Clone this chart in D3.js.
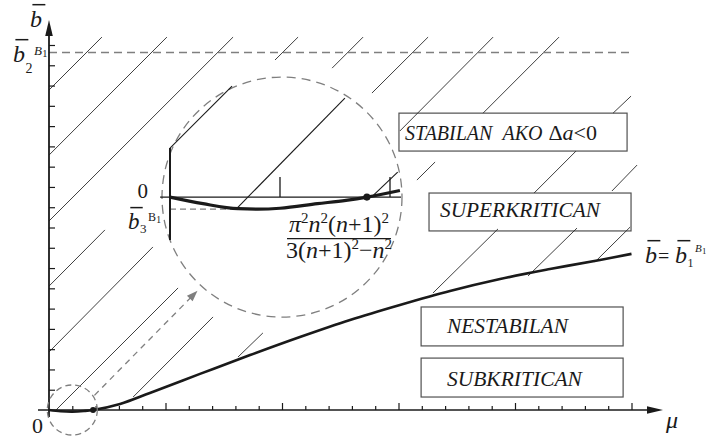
<!DOCTYPE html>
<html>
<head>
<meta charset="utf-8">
<script src="https://cdn.jsdelivr.net/npm/d3@7"></script>
</head>
<body style="margin:0">
<svg id="fig" width="706" height="438"></svg>
<script>
// Boundary curve b̄ = b̄1 over μ
const muValues = [0, 0.5, 1.0, 1.5, 1.89, 3.05, 4.33, 6.48, 8.63, 10.77, 12.92, 15.06, 17.21, 19.36, 21.5, 23.65, 25.0];
const bValues  = [0, -0.06, -0.08, -0.05, 0, 0.30, 0.84, 1.78, 2.71, 3.6, 4.44, 5.18, 5.87, 6.46, 6.95, 7.4, 7.7];

// Zero crossing of the boundary (origin of the magnified view)
const crossingMu = 1.89;

// Upper level b̄2
const b2Level = 17.63;

// Axis ticks
const muTicks = d3.range(1, 26);
const muMajor = [5, 10, 15, 20, 25];
const bTicks = d3.range(1, 19);

// Hatching of the stable region: [μ0, b0, μ1, b1]
const hatchSegments = [
  [0.00, 15.78, 2.27, 18.39],
  [0.00, 12.57, 5.06, 18.39],
  [0.00, 9.32, 7.90, 18.39],
  [0.00, 6.11, 2.40, 8.88],
  [9.70, 17.26, 10.69, 18.39],
  [0.00, 2.86, 4.46, 8.04],
  [12.15, 16.86, 13.48, 18.39],
  [0.30, 0.00, 5.54, 6.02],
  [13.86, 15.63, 16.27, 18.39],
  [3.61, 0.64, 7.04, 4.59],
  [15.06, 13.76, 19.06, 18.39],
  [8.11, 2.61, 9.18, 3.80],
  [15.79, 11.34, 16.57, 12.23],
  [18.63, 14.64, 21.89, 18.39],
  [16.48, 5.77, 19.27, 8.93],
  [20.82, 10.70, 22.62, 12.77],
  [24.21, 14.64, 24.98, 15.48],
  [20.56, 6.61, 22.66, 8.97],
  [24.16, 10.80, 25.24, 12.08],
  [23.43, 7.30, 24.94, 9.02]
];

// Magnified neighbourhood of the origin
const insetMu = [0, 0.3, 0.62, 0.8, 1.0, 1.34, 1.6, 1.79, 2.09];
const insetB  = [0, -0.55, -0.97, -1.0, -0.93, -0.55, -0.27, 0, 0.55];
const insetCrossing = 1.79;
const insetB3 = -1.0;
const insetTicks = [1, 2];
const insetHatch = [
  [0.00, 4.08, 0.564, 9.25],
  [0.61, -0.92, 1.59, 8.25],
  [1.85, 0.17, 2.07, 2.08]
];

// Region labels
const regionLabels = ["STABILAN", "AKO", "SUPERKRITICAN", "NESTABILAN", "SUBKRITICAN"];

const ink = "#1a1a1a";
const gray = "#7f7f7f";
const svg = d3.select("#fig");

const x = d3.scaleLinear().domain([0, 25]).range([49, 631.5]);
const y = d3.scaleLinear().domain([0, 18]).range([410, 45]);

// ---- region boxes (white panels) ----
const boxes = [
  { mu0: 15.02, mu1: 24.81, b0: 14.64, b1: 12.77, tx: 15.28, tb: 13.3, extra: true },
  { mu0: 16.31, mu1: 24.98, b0: 10.70, b1: 8.83, tx: 16.78, tb: 9.54, text: regionLabels[2], w: 160 },
  { mu0: 15.97, mu1: 24.64, b0: 5.08, b1: 3.16, tx: 17.08, tb: 3.79, text: regionLabels[3], w: 121 },
  { mu0: 15.97, mu1: 24.64, b0: 2.56, b1: 0.64, tx: 17.08, tb: 1.18, text: regionLabels[4], w: 135 }
];
svg.append("g").selectAll("rect").data(boxes).join("rect")
  .attr("x", d => x(d.mu0)).attr("y", d => y(d.b0))
  .attr("width", d => x(d.mu1) - x(d.mu0)).attr("height", d => y(d.b1) - y(d.b0))
  .attr("fill", "#fff").attr("stroke", "#505050").attr("stroke-width", 1.2);

// ---- hatching ----
svg.append("g").selectAll("line").data(hatchSegments).join("line")
  .attr("x1", d => x(d[0])).attr("y1", d => y(d[1]))
  .attr("x2", d => x(d[2])).attr("y2", d => y(d[3]))
  .attr("stroke", "#2a2a2a").attr("stroke-width", 0.9);

// ---- b̄2 level ----
svg.append("line")
  .attr("x1", x(0)).attr("x2", x(25)).attr("y1", y(b2Level)).attr("y2", y(b2Level))
  .attr("stroke", gray).attr("stroke-width", 1.3).attr("stroke-dasharray", "8,5");

// ---- boundary curve ----
const curvePts = muValues.map((m, i) => [m, bValues[i]]);
svg.append("path").datum(curvePts)
  .attr("d", d3.line().x(d => x(d[0])).y(d => y(d[1])).curve(d3.curveCatmullRom.alpha(0.5)))
  .attr("fill", "none").attr("stroke", ink).attr("stroke-width", 2.6);
svg.append("circle").attr("cx", x(crossingMu)).attr("cy", y(0)).attr("r", 3).attr("fill", ink);

// ---- axes ----
const axG = svg.append("g").attr("stroke", ink);
axG.append("line").attr("x1", 38).attr("x2", 652).attr("y1", y(0)).attr("y2", y(0)).attr("stroke-width", 1.6);
axG.append("line").attr("x1", x(0)).attr("x2", x(0)).attr("y1", 417).attr("y2", 32).attr("stroke-width", 1.8);
svg.append("path").attr("d", `M${x(0)},20 L${x(0) - 3.8},36 L${x(0) + 3.8},36 Z`).attr("fill", ink);
svg.append("path").attr("d", `M663,${y(0)} L647,${y(0) - 3.8} L647,${y(0) + 3.8} Z`).attr("fill", ink);

const xMinor = svg.append("g").attr("transform", `translate(0,${y(0)})`)
  .call(d3.axisTop(x).tickValues(muTicks.filter(t => !muMajor.includes(t))).tickSize(4).tickFormat(""));
const xMajor = svg.append("g").attr("transform", `translate(0,${y(0)})`)
  .call(d3.axisTop(x).tickValues(muMajor).tickSize(7).tickFormat(""));
const yAx = svg.append("g").attr("transform", `translate(${x(0)},0)`)
  .call(d3.axisRight(y).tickValues(bTicks).tickSize(6).tickFormat(""));
[xMinor, xMajor, yAx].forEach(g => {
  g.select(".domain").remove();
  g.selectAll("text").remove();
  g.attr("font-family", null).attr("font-size", null);
  g.selectAll("line").attr("stroke", ink).attr("stroke-width", 1.2);
});

// ---- magnifier circles and arrow ----
const sc = [x(1), y(0)], rs = 25;
const cc = [x(10), y(10.5)], R = 120;
svg.append("circle").attr("cx", sc[0]).attr("cy", sc[1]).attr("r", rs)
  .attr("fill", "none").attr("stroke", gray).attr("stroke-width", 1.3).attr("stroke-dasharray", "6,4");
svg.append("circle").attr("cx", cc[0]).attr("cy", cc[1]).attr("r", R)
  .attr("fill", "none").attr("stroke", gray).attr("stroke-width", 1.3).attr("stroke-dasharray", "9,6");

const dx = cc[0] - sc[0], dy = cc[1] - sc[1], len = Math.hypot(dx, dy);
const ux = dx / len, uy = dy / len, nx = -uy, ny = ux;
const off = 5.5;
const a0 = [sc[0] + (rs + 1) * ux + off * nx, sc[1] + (rs + 1) * uy + off * ny];
const a1 = [cc[0] - (R + 6) * ux + off * nx, cc[1] - (R + 6) * uy + off * ny];
svg.append("line").attr("x1", a0[0]).attr("y1", a0[1])
  .attr("x2", a1[0] - 9 * ux).attr("y2", a1[1] - 9 * uy)
  .attr("stroke", gray).attr("stroke-width", 1.3).attr("stroke-dasharray", "6,5");
svg.append("path")
  .attr("d", `M${a1[0]},${a1[1]} L${a1[0] - 11 * ux + 4 * nx},${a1[1] - 11 * uy + 4 * ny} L${a1[0] - 11 * ux - 4 * nx},${a1[1] - 11 * uy - 4 * ny} Z`)
  .attr("fill", gray);

// ---- magnified view ----
const ix = d3.scaleLinear().domain([0, 2]).range([cc[0] - 112, cc[0] + 108]);
const iy = d3.scaleLinear().domain([-1, 0]).range([cc[1] + 12, cc[1]]);
const inset = svg.append("g");
inset.append("g").selectAll("line").data(insetHatch).join("line")
  .attr("x1", d => ix(d[0])).attr("y1", d => iy(d[1]))
  .attr("x2", d => ix(d[2])).attr("y2", d => iy(d[3]))
  .attr("stroke", ink).attr("stroke-width", 1.1);
inset.append("line").attr("x1", ix(0)).attr("x2", ix(0.62)).attr("y1", iy(insetB3)).attr("y2", iy(insetB3))
  .attr("stroke", gray).attr("stroke-width", 1.3).attr("stroke-dasharray", "6,4");
inset.append("line").attr("x1", ix(-0.09)).attr("x2", ix(2.1)).attr("y1", iy(0)).attr("y2", iy(0))
  .attr("stroke", ink).attr("stroke-width", 1.3);
inset.append("line").attr("x1", ix(0)).attr("x2", ix(0)).attr("y1", iy(4.08)).attr("y2", iy(-3.58))
  .attr("stroke", ink).attr("stroke-width", 2);
inset.append("g").selectAll("line").data(insetTicks).join("line")
  .attr("x1", d => ix(d)).attr("x2", d => ix(d)).attr("y1", iy(0)).attr("y2", iy(1.67))
  .attr("stroke", ink).attr("stroke-width", 1.3);
inset.append("path").datum(insetMu.map((m, i) => [m, insetB[i]]))
  .attr("d", d3.line().x(d => ix(d[0])).y(d => iy(d[1])).curve(d3.curveMonotoneX))
  .attr("fill", "none").attr("stroke", ink).attr("stroke-width", 3.2);
inset.append("circle").attr("cx", ix(insetCrossing)).attr("cy", iy(0)).attr("r", 3.6).attr("fill", ink);

// ---- text (Times-style serif, widths from Times metrics) ----
function T(px0, py0, size, content, italic) {
  const t = svg.append("text").attr("x", px0).attr("y", py0).attr("font-size", size)
    .style("font-family", '"Liberation Serif"', "important")
    .style("font-style", italic ? "italic" : "normal", "important")
    .attr("fill", ink);
  if (content != null) t.text(content);
  return t;
}
function span(parent, content, italic, extra = {}) {
  const s = parent.append("tspan").style("font-family", '"Liberation Serif"', "important")
    .style("font-style", italic ? "italic" : "normal", "important").text(content);
  if (extra.size) s.attr("font-size", extra.size);
  if (extra.dy) s.attr("dy", extra.dy);
  if (extra.dx) s.attr("dx", extra.dx);
  return s;
}

function barB(px0, py0, size, o = {}) {
  T(px0, py0, size, "b", true);
  const w = 0.5 * size;
  svg.append("line")
    .attr("x1", px0 + 0.1 * size).attr("x2", px0 + w + 0.14 * size)
    .attr("y1", py0 - 0.93 * size).attr("y2", py0 - 0.93 * size)
    .attr("stroke", ink).attr("stroke-width", 1.5);
  let end = px0 + w;
  if (o.sub) {
    T(end + 0.5, py0 + o.subDy, o.subSize, o.sub, false);
    end += 0.5 + 0.5 * o.subSize;
  }
  if (o.sup) {
    T(end + 1.5, py0 - o.supDy, o.supSize, o.sup, o.supItalic);
    const sw = (o.supItalic ? 0.611 : 0.667) * o.supSize;
    T(end + 1.5 + sw + 0.3, py0 - o.supDy + 2, o.supSize * 0.8, "1", false);
  }
  return px0 + w;
}

// axis names
barB(30, 27, 24);
T(666, 428, 24, "μ", true);
T(32, 433, 22, "0", false);

// b̄2 level label
barB(13, 62, 24, { sub: "2", subDy: 11, subSize: 14, sup: "B", supDy: 7, supSize: 13, supItalic: true });

// boundary label b̄ = b̄1
const eqEnd = barB(645, 263, 24);
T(eqEnd + 1, 263, 20, "=", false);
barB(675, 263, 24, { sub: "1", subDy: 4, subSize: 12, sup: "B", supDy: 11, supSize: 11, supItalic: true });

// magnified view labels
T(ix(0) - 22, iy(0) + 1, 21, "0", false).attr("text-anchor", "end");
barB(128, 229, 23, { sub: "3", subDy: 4, subSize: 13, sup: "B", supDy: 8, supSize: 12, supItalic: false });

// critical value formula
const fx = cc[0] + 57;
const num = T(fx, cc[1] + 35, 24, null, false).attr("text-anchor", "middle");
span(num, "π", true);
span(num, "2", false, { size: 15, dy: -9 });
span(num, "n", true, { dy: 9 });
span(num, "2", false, { size: 15, dy: -9 });
span(num, "(", false, { dy: 9 });
span(num, "n", true);
span(num, "+1)", false);
span(num, "2", false, { size: 15, dy: -9 });
svg.append("line").attr("x1", fx - 52).attr("x2", fx + 52).attr("y1", cc[1] + 41.5).attr("y2", cc[1] + 41.5)
  .attr("stroke", ink).attr("stroke-width", 1.3);
const den = T(fx, cc[1] + 61, 24, null, false).attr("text-anchor", "middle");
span(den, "3(", false);
span(den, "n", true);
span(den, "+1)", false);
span(den, "2", false, { size: 15, dy: -9 });
span(den, "−", false, { dy: 9 });
span(den, "n", true);
span(den, "2", false, { size: 15, dy: -9 });

// region labels
boxes.forEach(d => {
  const t = T(x(d.tx), y(d.tb), 20, null, true);
  if (d.extra) {
    span(t, regionLabels[0], true);
    span(t, regionLabels[1], true, { dx: 10 });
    span(t, "Δ", false, { dx: 6, size: 22 });
    span(t, "a", true, { size: 22 });
    span(t, "<0", false, { size: 22 });
  } else {
    t.text(d.text).attr("textLength", d.w).attr("lengthAdjust", "spacingAndGlyphs");
  }
});
</script>
</body>
</html>
